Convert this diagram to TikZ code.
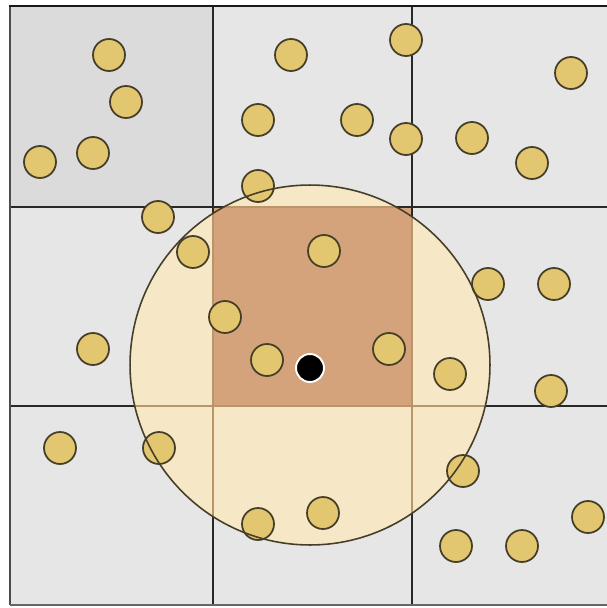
\documentclass[tikz,border=0pt]{standalone}
\usetikzlibrary{positioning}

\definecolor{cellgray}{RGB}{230,230,231}
\definecolor{cornergray}{RGB}{219,219,220}
\definecolor{gridline}{RGB}{40,40,40}
\definecolor{fadeline}{RGB}{185,150,105}
\definecolor{rangefill}{RGB}{246,232,198}
\definecolor{centercell}{RGB}{213,163,123}
\definecolor{dotfill}{RGB}{226,198,112}
\definecolor{dotline}{RGB}{70,62,40}

\begin{document}
\begin{tikzpicture}[x=0.02cm, y=-0.02cm,
  every node/.style={inner sep=0pt, outer sep=0pt},
  pt/.style={circle, draw=dotline, line width=1pt, fill=dotfill, minimum size=0.64cm},
  query/.style={circle, draw=white, line width=1.1pt, fill=black, minimum size=0.56cm},
  grid line/.style={gridline, line width=1.2pt},
]
  \clip (0,0) rectangle (607,608);
  \fill[white] (0,0) rectangle (607,608);

  % cells
  \fill[cellgray] (10,7) rectangle (612,605);
  \fill[cornergray] (10,7) rectangle (213,207);

  % search range and the cell of the query point
  \fill[rangefill] (310,365) circle[radius=3.6cm];
  \fill[centercell] (213,207) rectangle (412,406);

  % grid
  \draw[grid line] (213,7) -- (213,605);
  \draw[grid line] (412,7) -- (412,605);
  \draw[grid line] (10,207) -- (612,207);
  \draw[grid line] (10,406) -- (612,406);
  \draw[gray!60!black, line width=1.7pt] (10,605) -- (10,6);
  \draw[black!90, line width=1.7pt] (9,6) -- (612,6);
  \draw[gray!80!black, line width=1.6pt] (10,605) -- (612,605);
  \begin{scope}
    \clip (310,365) circle[radius=3.6cm];
    \draw[fadeline, line width=1.2pt] (213,7) -- (213,605);
    \draw[fadeline, line width=1.2pt] (412,7) -- (412,605);
    \draw[fadeline, line width=1.2pt] (10,207) -- (612,207);
    \draw[fadeline, line width=1.2pt] (10,406) -- (612,406);
  \end{scope}

  % points
  \node[pt] (p1) at (109,55) {};
  \node[pt] (p2) at (126,102) {};
  \node[pt] (p3) at (93,153) {};
  \node[pt] (p4) at (40,162) {};
  \node[pt] (p5) at (291,55) {};
  \node[pt] (p6) at (406,40) {};
  \node[pt] (p7) at (258,120) {};
  \node[pt] (p8) at (357,120) {};
  \node[pt] (p9) at (406,139) {};
  \node[pt] (p10) at (258,186) {};
  \node[pt] (p11) at (571,73) {};
  \node[pt] (p12) at (472,138) {};
  \node[pt] (p13) at (532,163) {};
  \node[pt] (p14) at (158,217) {};
  \node[pt] (p15) at (193,252) {};
  \node[pt] (p16) at (93,349) {};
  \node[pt] (p17) at (225,317) {};
  \node[pt] (p18) at (324,251) {};
  \node[pt] (p19) at (267,360) {};
  \node[pt] (p20) at (389,349) {};
  \node[pt] (p21) at (488,284) {};
  \node[pt] (p22) at (554,284) {};
  \node[pt] (p23) at (450,374) {};
  \node[pt] (p24) at (551,391) {};
  \node[pt] (p25) at (60,448) {};
  \node[pt] (p26) at (159,448) {};
  \node[pt] (p27) at (258,524) {};
  \node[pt] (p28) at (323,513) {};
  \node[pt] (p29) at (463,471) {};
  \node[pt] (p30) at (456,546) {};
  \node[pt] (p31) at (522,546) {};
  \node[pt] (p32) at (588,517) {};

  % outline of the range
  \draw[dotline, line width=0.9pt] (310,365) circle[radius=3.6cm];

  \node[query] (q) at (310,368) {};
\end{tikzpicture}
\end{document}
